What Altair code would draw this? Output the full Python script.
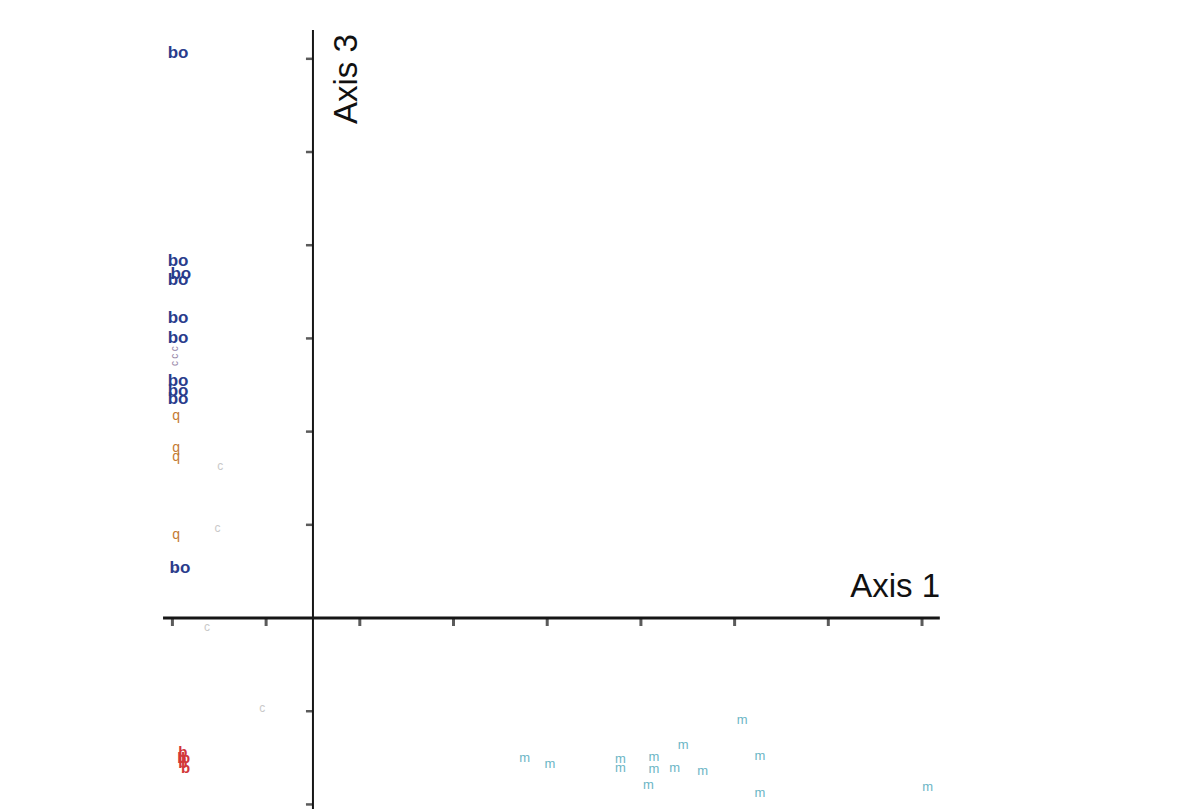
import altair as alt
import pandas as pd

# ---- data (axis units: one tick spacing = 1) ----
bo_x = [-1.44, -1.44, -1.41, -1.44, -1.44, -1.44, -1.44, -1.44, -1.44, -1.42]
bo_y = [6.06, 3.83, 3.69, 3.63, 3.22, 3.00, 2.54, 2.44, 2.35, 0.54]

q_x = [-1.46, -1.46, -1.46, -1.46]
q_y = [2.17, 1.82, 1.73, 0.89]

c_x = [-0.99, -1.02, -1.13, -0.54]
c_y = [1.63, 0.97, -0.10, -0.97]

p_x = [-1.47, -1.47, -1.47, -1.47]
p_y = [2.89, 2.81, 2.73, 0.52]

r_x = [-1.39, -1.36, -1.39, -1.36, -1.40]
r_y = [-1.44, -1.50, -1.56, -1.61, -1.50]

m_x = [2.26, 2.53, 3.28, 3.28, 3.64, 3.64, 3.86, 3.95, 3.58, 4.16, 4.58, 4.77, 4.77, 6.56]
m_y = [-1.50, -1.57, -1.51, -1.61, -1.49, -1.62, -1.61, -1.36, -1.79, -1.64, -1.09, -1.48, -1.88, -1.81]

x_ticks = [-1.5, -0.5, 0.5, 1.5, 2.5, 3.5, 4.5, 5.5, 6.5]
y_ticks = [-2, -1, 1, 2, 3, 4, 5, 6]
x_axis_extent = [-1.60, 6.69]
y_axis_extent = [-2.05, 6.31]

X_DOMAIN = [-3.340, 9.360]
Y_DOMAIN = [-2.049, 6.631]

xs = alt.Scale(domain=X_DOMAIN, nice=False, zero=False)
ys = alt.Scale(domain=Y_DOMAIN, nice=False, zero=False)
X = lambda f="x": alt.X(f"{f}:Q", scale=xs, axis=None)
Y = lambda f="y": alt.Y(f"{f}:Q", scale=ys, axis=None)

AXIS_COLOR = "#161616"


def labels(xv, yv, text, color, size, weight="normal", angle=0, opacity=1.0):
    df = pd.DataFrame({"x": xv, "y": yv, "label": [text] * len(xv)})
    return alt.Chart(df).mark_text(
        font="Liberation Sans", fontSize=size, fontWeight=weight, color=color,
        angle=angle, opacity=opacity, align="center", baseline="middle"
    ).encode(x=X(), y=Y(), text="label:N")


h_axis = alt.Chart(pd.DataFrame({"x": [x_axis_extent[0]], "x2": [x_axis_extent[1]], "y": [0]})).mark_rule(
    color=AXIS_COLOR, strokeWidth=3).encode(x=X(), x2="x2:Q", y=Y())
v_axis = alt.Chart(pd.DataFrame({"x": [0], "y": [y_axis_extent[0]], "y2": [y_axis_extent[1]]})).mark_rule(
    color=AXIS_COLOR, strokeWidth=2).encode(x=X(), y=Y(), y2="y2:Q")

x_tick_marks = alt.Chart(pd.DataFrame({"x": x_ticks, "y": [0] * len(x_ticks)})).mark_tick(
    orient="vertical", size=8, thickness=3, yOffset=4, color=AXIS_COLOR).encode(x=X(), y=Y())
y_tick_marks = alt.Chart(pd.DataFrame({"x": [0] * len(y_ticks), "y": y_ticks})).mark_tick(
    orient="horizontal", size=7, thickness=2.5, xOffset=-3.5, color=AXIS_COLOR).encode(x=X(), y=Y())

title1 = alt.Chart(pd.DataFrame({"t": ["Axis 1"]})).mark_text(
    font="Liberation Sans", fontSize=33, color="#111111", align="right", baseline="alphabetic"
).encode(x=alt.value(940), y=alt.value(597), text="t:N")
title3 = alt.Chart(pd.DataFrame({"t": ["Axis 3"]})).mark_text(
    font="Liberation Sans", fontSize=33, color="#111111", align="left", baseline="alphabetic", angle=270
).encode(x=alt.value(357), y=alt.value(124), text="t:N")

chart = alt.layer(
    h_axis, v_axis, x_tick_marks, y_tick_marks,
    labels(c_x, c_y, "c", "#c9c9c9", 12),
    labels(m_x, m_y, "m", "#5aaec0", 13, opacity=0.9),
    labels(q_x, q_y, "q", "#c47a34", 14),
    labels(p_x, p_y, "c", "#7a6490", 10, angle=270, opacity=0.8),
    labels(bo_x, bo_y, "bo", "#2a3c8c", 17, weight="bold"),
    labels(r_x, r_y, "b", "#d2373a", 15, weight="bold"),
    title1, title3,
).properties(
    width=1190, height=809, padding=0,
    autosize=alt.AutoSizeParams(type="none"),
).configure_view(stroke=None)

chart.save("out.html", embed_options={"renderer": "svg", "actions": False})
